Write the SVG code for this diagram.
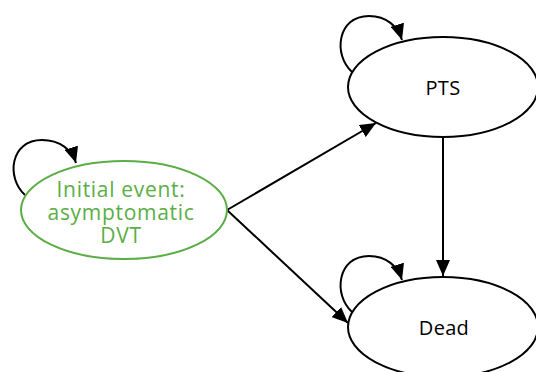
<svg xmlns="http://www.w3.org/2000/svg" width="536" height="372" viewBox="0 0 536 372">
  <defs>
    <marker id="arrow" viewBox="0 0 16 14" refX="16" refY="7" markerWidth="16" markerHeight="14" markerUnits="userSpaceOnUse" orient="auto">
      <path d="M0,0 L16,7 L0,14 z" fill="#000"/>
    </marker>
    <style>
      .node { fill: #fff; stroke: #000; stroke-width: 2; }
      .start { fill: #fff; stroke: #5aae45; stroke-width: 2; }
      .label { font-family: "Open Sans", "Noto Sans", sans-serif; font-size: 20px; letter-spacing: 0.3px; text-anchor: middle; fill: #000; }
      .green { fill: #5aae45; font-size: 21px; letter-spacing: 0.7px; }
      .edge { fill: none; stroke: #000; stroke-width: 2; marker-end: url(#arrow); }
    </style>
  </defs>

  <g id="connectors">
    <path class="edge" d="M227,210 L376,123"/>
    <path class="edge" d="M227,210 L348,323"/>
    <path class="edge" d="M443,137 L443,276"/>
    <path class="edge" d="M25,195 C6,178 10,140 42,140 C60,140 72,150 76,163"/>
    <path class="edge" d="M352,72 C333,55 337,16 369,16 C387,16 398,27 402,40"/>
    <path class="edge" d="M352,312 C333,295 337,256 369,256 C387,256 398,267 402,280"/>
  </g>

  <g id="initial">
    <ellipse class="start" cx="124" cy="210" rx="103" ry="49"/>
    <text class="label green"><tspan x="121" y="197">Initial event:</tspan><tspan x="121" y="220">asymptomatic</tspan><tspan x="121" y="243">DVT</tspan></text>
  </g>

  <g id="pts">
    <ellipse class="node" cx="443" cy="87" rx="95" ry="50"/>
    <text class="label" x="443" y="95">PTS</text>
  </g>

  <g id="dead">
    <ellipse class="node" cx="443" cy="327" rx="95" ry="50"/>
    <text class="label" x="444" y="335">Dead</text>
  </g>
</svg>
